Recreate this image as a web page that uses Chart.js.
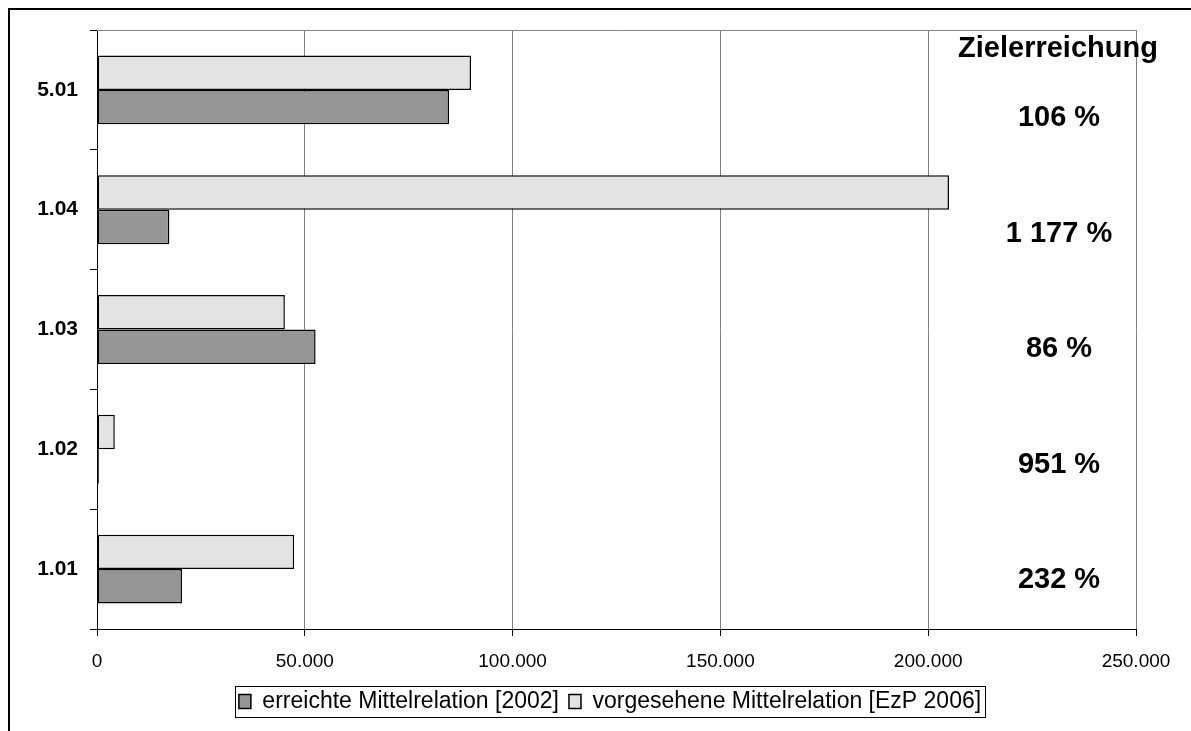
<!DOCTYPE html>
<html lang="de">
<head>
<meta charset="utf-8">
<title>Zielerreichung Mittelrelation</title>
<script src="https://cdn.jsdelivr.net/npm/chart.js@4/dist/chart.umd.min.js"></script>
<style>
  html, body { margin: 0; padding: 0; background: #fff; }
  #wrap { position: relative; width: 1191px; height: 731px; }
</style>
</head>
<body>
<div id="wrap"><canvas id="chart" width="1191" height="731"></canvas></div>
<script>
// categories bottom -> top, values in the same order
const categories = ["1.01", "1.02", "1.03", "1.04", "5.01"];
const erreicht2002 = [20450, 450, 52600, 17420, 84700];
const vorgesehen2006 = [47450, 4280, 45200, 205000, 90000];
const xTicks = [0, 50000, 100000, 150000, 200000, 250000];
const seriesNames = ["erreichte Mittelrelation [2002]", "vorgesehene Mittelrelation [EzP 2006]"];

const FONT = "'Liberation Sans', Arial, Helvetica, sans-serif";
const PLOT_LEFT = 97;
const PLOT_BOTTOM = 629;
const LEGEND_SHIFT = 42;

const groupDigits = (v, sep) => String(Math.round(v)).replace(/\B(?=(\d{3})+(?!\d))/g, sep);

// Zielerreichung = vorgesehen / erreicht
const zielerreichung = categories.map((c, i) => Math.round((vorgesehen2006[i] / erreicht2002[i]) * 100));

// chart draws the first label at the top, so flip everything
const labelsTopDown = [...categories].reverse();
const erreichtTopDown = [...erreicht2002].reverse();
const vorgesehenTopDown = [...vorgesehen2006].reverse();

Chart.defaults.font.family = FONT;
Chart.defaults.color = "#000";

// black frame lines + grey top edge of the plot
const framePlugin = {
  id: "frame",
  beforeDatasetsDraw(chart) {
    const { ctx, chartArea } = chart;
    ctx.save();
    ctx.strokeStyle = "#808080";
    ctx.lineWidth = 1;
    ctx.beginPath();
    ctx.moveTo(chartArea.left, chartArea.top + 0.5);
    ctx.lineTo(chartArea.right, chartArea.top + 0.5);
    ctx.stroke();
    ctx.restore();
  },
  afterDraw(chart) {
    const { ctx, width, height } = chart;
    ctx.save();
    ctx.strokeStyle = "#000";
    ctx.lineWidth = 2;
    ctx.beginPath();
    ctx.moveTo(9, height);
    ctx.lineTo(9, 9);
    ctx.lineTo(width, 9);
    ctx.stroke();
    ctx.restore();
  },
};

// nudge the legend a bit to the right and box it in
const legendBorder = {
  id: "legendBorder",
  afterLayout(chart) {
    if (!chart.legend) return;
    chart.legend.left += LEGEND_SHIFT;
    chart.legend.right += LEGEND_SHIFT;
  },
  afterDraw(chart) {
    const boxes = chart.legend && chart.legend.legendHitBoxes;
    if (!boxes || !boxes.length) return;
    const l = Math.min(...boxes.map((b) => b.left)) - 4;
    const r = Math.max(...boxes.map((b) => b.left + b.width)) + 4;
    const t = Math.min(...boxes.map((b) => b.top)) - 4;
    const btm = Math.max(...boxes.map((b) => b.top + b.height)) + 4;
    const { ctx } = chart;
    ctx.save();
    ctx.strokeStyle = "#000";
    ctx.lineWidth = 1;
    ctx.strokeRect(Math.round(l) + 0.5, Math.round(t) + 0.5, Math.round(r - l), Math.round(btm - t));
    ctx.restore();
  },
};

// "Zielerreichung" column on the right
const ratioLabels = {
  id: "ratioLabels",
  afterDraw(chart) {
    const { ctx, chartArea } = chart;
    const x = chartArea.right - 77;
    ctx.save();
    ctx.font = `bold 29px ${FONT}`;
    ctx.fillStyle = "#000";
    ctx.textAlign = "center";
    ctx.textBaseline = "middle";
    ctx.fillText("Zielerreichung", x - 1, chartArea.top + 19);
    chart.data.labels.forEach((lab, k) => {
      const i = categories.indexOf(lab);
      ctx.fillText(groupDigits(zielerreichung[i], " ") + " %", x, chartArea.top + 88 + k * 115.5);
    });
    ctx.restore();
  },
};

new Chart(document.getElementById("chart"), {
  type: "bar",
  data: {
    labels: labelsTopDown,
    datasets: [
      {
        label: seriesNames[1],
        data: vorgesehenTopDown,
        backgroundColor: "#e3e3e3",
        borderColor: "#000",
        borderWidth: 1.5,
        borderSkipped: false,
      },
      {
        label: seriesNames[0],
        data: erreichtTopDown,
        backgroundColor: "#969696",
        borderColor: "#000",
        borderWidth: 1.5,
        borderSkipped: false,
      },
    ],
  },
  options: {
    indexAxis: "y",
    responsive: false,
    animation: false,
    devicePixelRatio: 1,
    categoryPercentage: 0.575,
    barPercentage: 1,
    layout: { padding: { left: 0, top: 30, right: 55, bottom: 8 } },
    plugins: {
      tooltip: { enabled: false },
      legend: {
        position: "bottom",
        reverse: true,
        labels: {
          boxWidth: 12,
          boxHeight: 14,
          padding: 10,
          color: "#000",
          font: { size: 23 },
        },
      },
    },
    scales: {
      x: {
        type: "linear",
        min: 0,
        max: 250000,
        afterBuildTicks: (s) => {
          s.ticks = xTicks.map((v) => ({ value: v }));
        },
        afterFit: (s) => {
          s.height = s.chart.height - PLOT_BOTTOM - s.chart.options.layout.padding.bottom - s.chart.legend.height;
        },
        grid: { color: "#808080", lineWidth: 1, tickLength: 7, tickColor: "#000" },
        border: { color: "#000", width: 1 },
        ticks: {
          padding: 14,
          color: "#000",
          font: { size: 19 },
          maxRotation: 0,
          callback: (v) => groupDigits(v, "."),
        },
      },
      y: {
        type: "category",
        offset: true,
        afterFit: (s) => {
          s.width = PLOT_LEFT - s.chart.options.layout.padding.left;
        },
        grid: { drawOnChartArea: false, offset: true, tickLength: 7, tickColor: "#000" },
        border: { color: "#000", width: 1 },
        ticks: { padding: 12, color: "#000", font: { size: 21, weight: "bold" } },
      },
    },
  },
  plugins: [framePlugin, legendBorder, ratioLabels],
});
</script>
</body>
</html>
